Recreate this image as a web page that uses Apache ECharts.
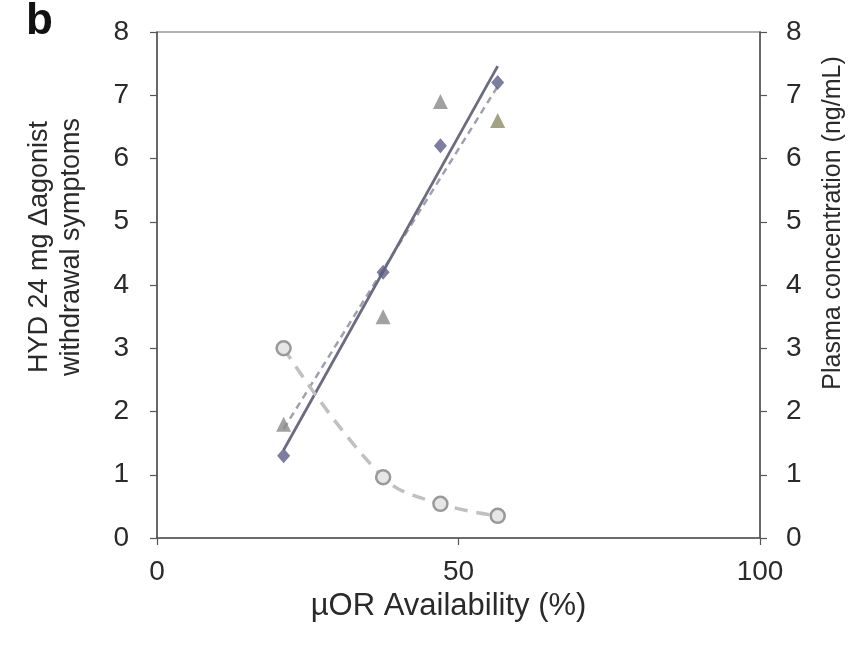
<!DOCTYPE html>
<html>
<head>
<meta charset="utf-8">
<script src="https://cdn.jsdelivr.net/npm/echarts@6/dist/echarts.min.js"></script>
<style>
  html, body { margin: 0; padding: 0; background: #fff; }
  #main { width: 853px; height: 646px; }
</style>
</head>
<body>
<div id="main"></div>
<script>
// µOR availability (%) for each subject
var availability = [21, 37.5, 47, 56.5];
// withdrawal symptoms (left axis)
var diamondVals = [1.3, 4.2, 6.2, 7.2];
var triangleVals = [1.8, 3.5, 6.9, 6.6];
// plasma concentration ng/mL (right axis)
var plasmaVals = [3.0, 0.96, 0.54, 0.35];
var yTicks = [0, 1, 2, 3, 4, 5, 6, 7, 8];

// least squares fit, returns the two end points of the trend line
function fitLine(xs, ys) {
    var n = xs.length, mx = 0, my = 0;
    for (var i = 0; i < n; i++) { mx += xs[i]; my += ys[i]; }
    mx /= n; my /= n;
    var sxx = 0, sxy = 0;
    for (var j = 0; j < n; j++) {
        sxx += (xs[j] - mx) * (xs[j] - mx);
        sxy += (xs[j] - mx) * (ys[j] - my);
    }
    var b = sxy / sxx, a = my - b * mx;
    var x0 = xs[0], x1 = xs[n - 1];
    return [[x0, a + b * x0], [x1, a + b * x1]];
}

function pairs(xs, ys) {
    return xs.map(function(x, i) { return [x, ys[i]]; });
}

var font = 'Liberation Sans, Arial, sans-serif';
var txt = '#2a2a2a';
var axisLine = { show: true, lineStyle: { color: '#555', width: 1.5 } };
var tick = { show: true, length: 7, lineStyle: { color: '#555', width: 1.2 } };

var chart = echarts.init(document.getElementById('main'));
chart.setOption({
    animation: false,
    backgroundColor: '#fff',
    graphic: [{
        type: 'text', left: 26, top: 0,
        style: { text: 'b', font: 'bold 44px ' + font, fill: '#111' }
    }, {
        // left axis title (two lines)
        type: 'text', x: 56, y: 247, rotation: Math.PI / 2,
        style: {
            text: 'HYD 24 mg Δagonist\nwithdrawal symptoms',
            font: '27px ' + font, fill: txt, lineHeight: 32,
            align: 'center', verticalAlign: 'middle'
        }
    }, {
        // right axis title
        type: 'text', x: 833, y: 223, rotation: Math.PI / 2,
        style: {
            text: 'Plasma concentration (ng/mL)',
            font: '25px ' + font, fill: txt,
            align: 'center', verticalAlign: 'middle'
        }
    }],
    grid: { left: 157, right: 93, top: 32, bottom: 108, show: true, borderColor: '#666', borderWidth: 1.2 },
    xAxis: {
        type: 'value', min: 0, max: 100, interval: 50,
        name: 'µOR Availability (%)', nameLocation: 'middle', nameGap: 50,
        nameTextStyle: { fontFamily: font, fontSize: 31, color: txt, padding: [0, 20, 0, 0] },
        axisLine: axisLine,
        axisTick: tick,
        axisLabel: { fontFamily: font, fontSize: 28, color: txt, margin: 20 },
        splitLine: { show: false }
    },
    yAxis: [{
        type: 'value', min: yTicks[0], max: yTicks[yTicks.length - 1], interval: 1,
        position: 'left',
        axisLine: axisLine,
        axisTick: tick,
        axisLabel: { fontFamily: font, fontSize: 28, color: txt, margin: 28 },
        splitLine: { show: false }
    }, {
        type: 'value', min: yTicks[0], max: yTicks[yTicks.length - 1], interval: 1,
        position: 'right',
        axisLine: axisLine,
        axisTick: tick,
        axisLabel: { fontFamily: font, fontSize: 28, color: txt, margin: 26 },
        splitLine: { show: false }
    }],
    series: [{
        type: 'line', data: fitLine(availability, triangleVals), yAxisIndex: 0,
        symbol: 'none', silent: true,
        lineStyle: { color: '#a0a0b0', width: 2.5, type: [7, 5] }, z: 1
    }, {
        type: 'line', data: fitLine(availability, diamondVals), yAxisIndex: 0,
        symbol: 'none', silent: true,
        lineStyle: { color: '#6c6c80', width: 2.8 }, z: 2
    }, {
        type: 'line', data: pairs(availability, plasmaVals), yAxisIndex: 1,
        smooth: 0.4, symbol: 'circle', symbolSize: 14,
        itemStyle: { color: '#e6e6e6', borderColor: '#999', borderWidth: 2.5 },
        lineStyle: { color: '#c0c0c0', width: 3.5, type: [13, 9] }, z: 3
    }, {
        type: 'scatter', data: pairs(availability, triangleVals), yAxisIndex: 0,
        symbol: 'triangle', symbolSize: 15,
        itemStyle: {
            color: function(p) { return p.dataIndex === 3 ? '#8c8c62' : '#8a8a8a'; }
        }, z: 4
    }, {
        type: 'scatter', data: pairs(availability, diamondVals), yAxisIndex: 0,
        symbol: 'diamond', symbolSize: [13, 15],
        itemStyle: { color: '#5c5c88' }, z: 5
    }]
});
</script>
</body>
</html>
